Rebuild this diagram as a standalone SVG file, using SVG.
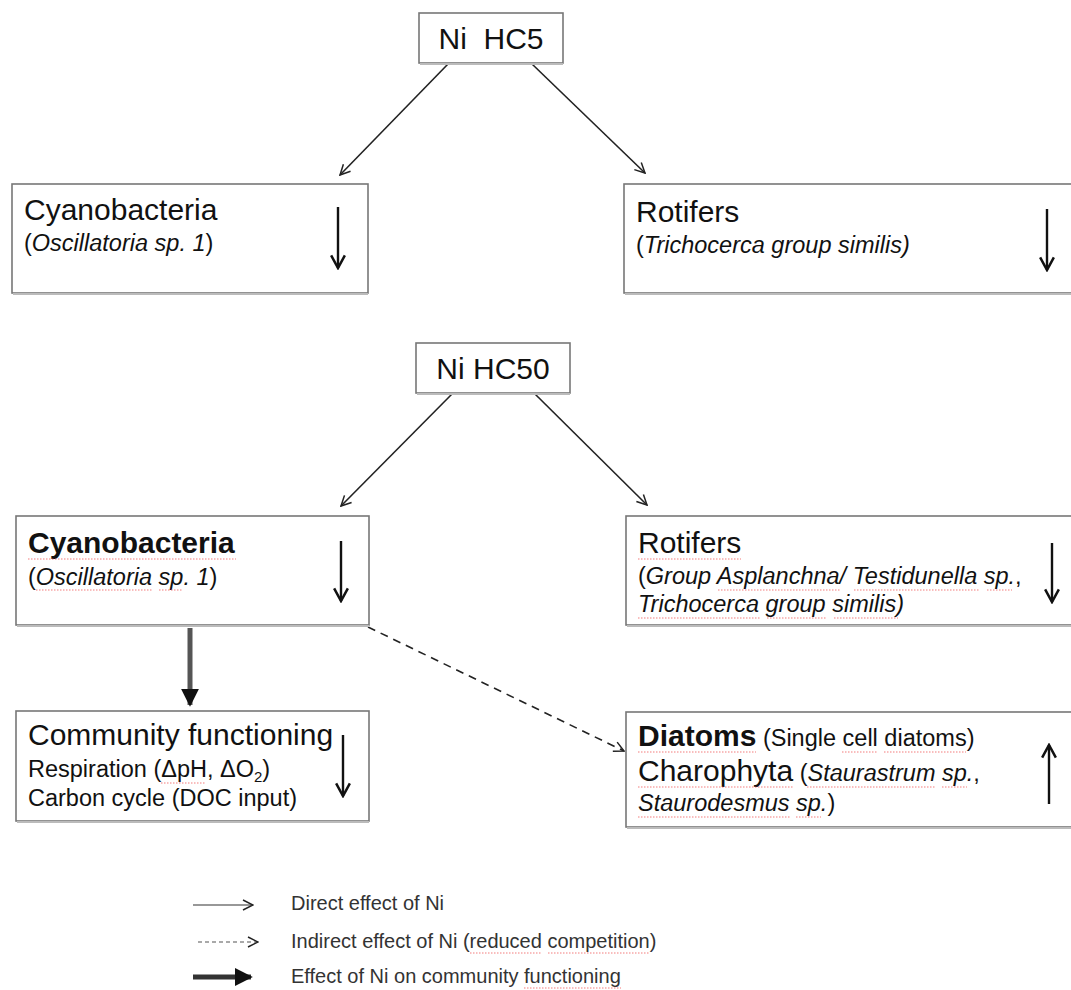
<svg xmlns="http://www.w3.org/2000/svg" width="1071" height="990" viewBox="0 0 1071 990">
<defs>
<marker id="open" viewBox="0 0 12 12" refX="11" refY="6" markerWidth="12" markerHeight="12" markerUnits="userSpaceOnUse" orient="auto">
<path d="M1,1 L11,6 L1,11" fill="none" stroke="#222" stroke-width="1.5"/>
</marker>
<marker id="solidhead" viewBox="0 0 10 10" refX="9" refY="5" markerWidth="18" markerHeight="18" markerUnits="userSpaceOnUse" orient="auto">
<path d="M0,0 L10,5 L0,10 Z" fill="#111"/>
</marker>
<marker id="vhead" viewBox="0 0 14 14" refX="12" refY="7" markerWidth="16" markerHeight="16" markerUnits="userSpaceOnUse" orient="auto">
<path d="M1,1 L12,7 L1,13" fill="none" stroke="#111" stroke-width="2.2"/>
</marker>
</defs>
<style>
.box{fill:#fff;stroke:#777;stroke-width:1.6}
.shadow{stroke:#bbb;stroke-width:2;fill:none}
text{font-family:"Liberation Sans",Arial,sans-serif;fill:#111}
.big{font-size:30px}
.med{font-size:23.5px}
.b{font-weight:bold}
.i{font-style:italic}
.leg{font-size:20px;fill:#333}
.conn{stroke:#222;stroke-width:1.6;fill:none}
.inarrow{stroke:#111;stroke-width:2.4;fill:none}
.sq{stroke:#e44;stroke-width:1.2;fill:none;stroke-dasharray:1.5 1.5;opacity:0.7}
</style>
<rect width="1071" height="990" fill="#fff"/>

<g id="connectors">
<line class="conn" x1="448" y1="64" x2="340" y2="175" marker-end="url(#open)"/>
<line class="conn" x1="532" y1="64" x2="645" y2="173" marker-end="url(#open)"/>
<line class="conn" x1="452" y1="394" x2="341" y2="506" marker-end="url(#open)" stroke-width="2"/>
<line class="conn" x1="535" y1="394" x2="647" y2="505" marker-end="url(#open)" stroke-width="2"/>
<line x1="190" y1="628" x2="190" y2="705" stroke="#555" stroke-width="5" marker-end="url(#solidhead)"/>
<line class="conn" x1="368" y1="627" x2="624" y2="751" stroke-dasharray="8 6" stroke-width="2" marker-end="url(#open)"/>
</g>

<g id="hc5">
<rect class="box" x="419" y="13" width="144" height="50"/>
<line class="shadow" x1="420" y1="64" x2="563" y2="64"/>
<text class="big" x="491" y="49" text-anchor="middle" xml:space="preserve">Ni  HC5</text>
</g>

<g id="cyano1">
<rect class="box" x="12" y="184" width="356" height="109"/>
<line class="shadow" x1="13" y1="294" x2="368" y2="294"/>
<text class="big" x="24" y="220">Cyanobacteria</text>
<text class="med" x="24" y="251">(<tspan class="i">Oscillatoria sp. 1</tspan>)</text>
<line class="inarrow" x1="338" y1="207" x2="338" y2="268" marker-end="url(#vhead)"/>
</g>

<g id="rot1">
<rect class="box" x="624" y="184" width="460" height="109"/>
<line class="shadow" x1="625" y1="294" x2="1071" y2="294"/>
<text class="big" x="636" y="222">Rotifers</text>
<text class="med" x="636" y="253">(<tspan class="i">Trichocerca group similis)</tspan></text>
<line class="inarrow" x1="1047" y1="209" x2="1047" y2="270" marker-end="url(#vhead)"/>
</g>

<g id="hc50">
<rect class="box" x="416" y="343" width="154" height="50"/>
<line class="shadow" x1="417" y1="394" x2="570" y2="394"/>
<text class="big" x="493" y="379" text-anchor="middle">Ni HC50</text>
</g>

<g id="cyano2">
<rect class="box" x="16" y="516" width="353" height="109"/>
<line class="shadow" x1="17" y1="626" x2="369" y2="626"/>
<text class="big b" x="28" y="553">Cyanobacteria</text>
<text class="med" x="28" y="585">(<tspan class="i">Oscillatoria sp. 1</tspan>)</text>
<path class="sq" d="M28,559 H236 M36,590 H152 M159,590 H183"/>
<line class="inarrow" x1="341" y1="541" x2="341" y2="601" marker-end="url(#vhead)"/>
</g>

<g id="community">
<rect class="box" x="16" y="711" width="353" height="110"/>
<line class="shadow" x1="17" y1="822" x2="369" y2="822"/>
<text class="big" x="28" y="745">Community functioning</text>
<text class="med" x="28" y="777">Respiration (ΔpH, ΔO<tspan font-size="15" dy="5">2</tspan><tspan dy="-5">)</tspan></text>
<text class="med" x="28" y="806">Carbon cycle (DOC input)</text>
<path class="sq" d="M161,783 H206"/>
<line class="inarrow" x1="343" y1="735" x2="343" y2="796" marker-end="url(#vhead)"/>
</g>

<g id="rot2">
<rect class="box" x="626" y="516" width="460" height="109"/>
<line class="shadow" x1="627" y1="626" x2="1071" y2="626"/>
<text class="big" x="638" y="553">Rotifers</text>
<text class="med" x="638" y="584">(<tspan class="i">Group Asplanchna/ Testidunella sp.</tspan>,</text>
<text class="med i" x="638" y="612">Trichocerca group similis)</text>
<path class="sq" d="M638,559 H741 M718,590 H840 M854,590 H980 M987,590 H1012 M638,618 H761 M767,618 H827 M834,618 H898"/>
<line class="inarrow" x1="1052" y1="543" x2="1052" y2="602" marker-end="url(#vhead)"/>
</g>

<g id="diatoms">
<rect class="box" x="626" y="712" width="460" height="115"/>
<line class="shadow" x1="627" y1="828" x2="1071" y2="828"/>
<text x="638" y="746"><tspan class="big b">Diatoms</tspan><tspan class="med"> (Single cell diatoms)</tspan></text>
<text x="638" y="781"><tspan class="big">Charophyta</tspan><tspan class="med"> (<tspan class="i">Staurastrum sp.</tspan>,</tspan></text>
<text class="med" x="638" y="811"><tspan class="i">Staurodesmus sp.</tspan>)</text>
<path class="sq" d="M638,752 H756 M842,752 H877 M884,752 H966 M638,787 H793 M807,787 H935 M942,787 H967 M638,817 H790 M796,817 H821"/>
<line class="inarrow" x1="1049" y1="804" x2="1049" y2="745" marker-end="url(#vhead)"/>
</g>

<g id="legend">
<line x1="193" y1="905" x2="253" y2="905" stroke="#333" stroke-width="1.2" marker-end="url(#open)"/>
<text class="leg" x="291" y="910">Direct effect of Ni</text>
<line x1="198" y1="942" x2="258" y2="942" stroke="#555" stroke-width="1.2" stroke-dasharray="4 3" marker-end="url(#open)"/>
<text class="leg" x="291" y="948">Indirect effect of Ni (reduced competition)</text>
<path class="sq" d="M470,953 H542 M548,953 H650"/>
<line x1="193" y1="977" x2="251" y2="977" stroke="#333" stroke-width="5" marker-end="url(#solidhead)"/>
<text class="leg" x="291" y="983">Effect of Ni on community functioning</text>
<path class="sq" d="M524,988 H621"/>
</g>
</svg>
